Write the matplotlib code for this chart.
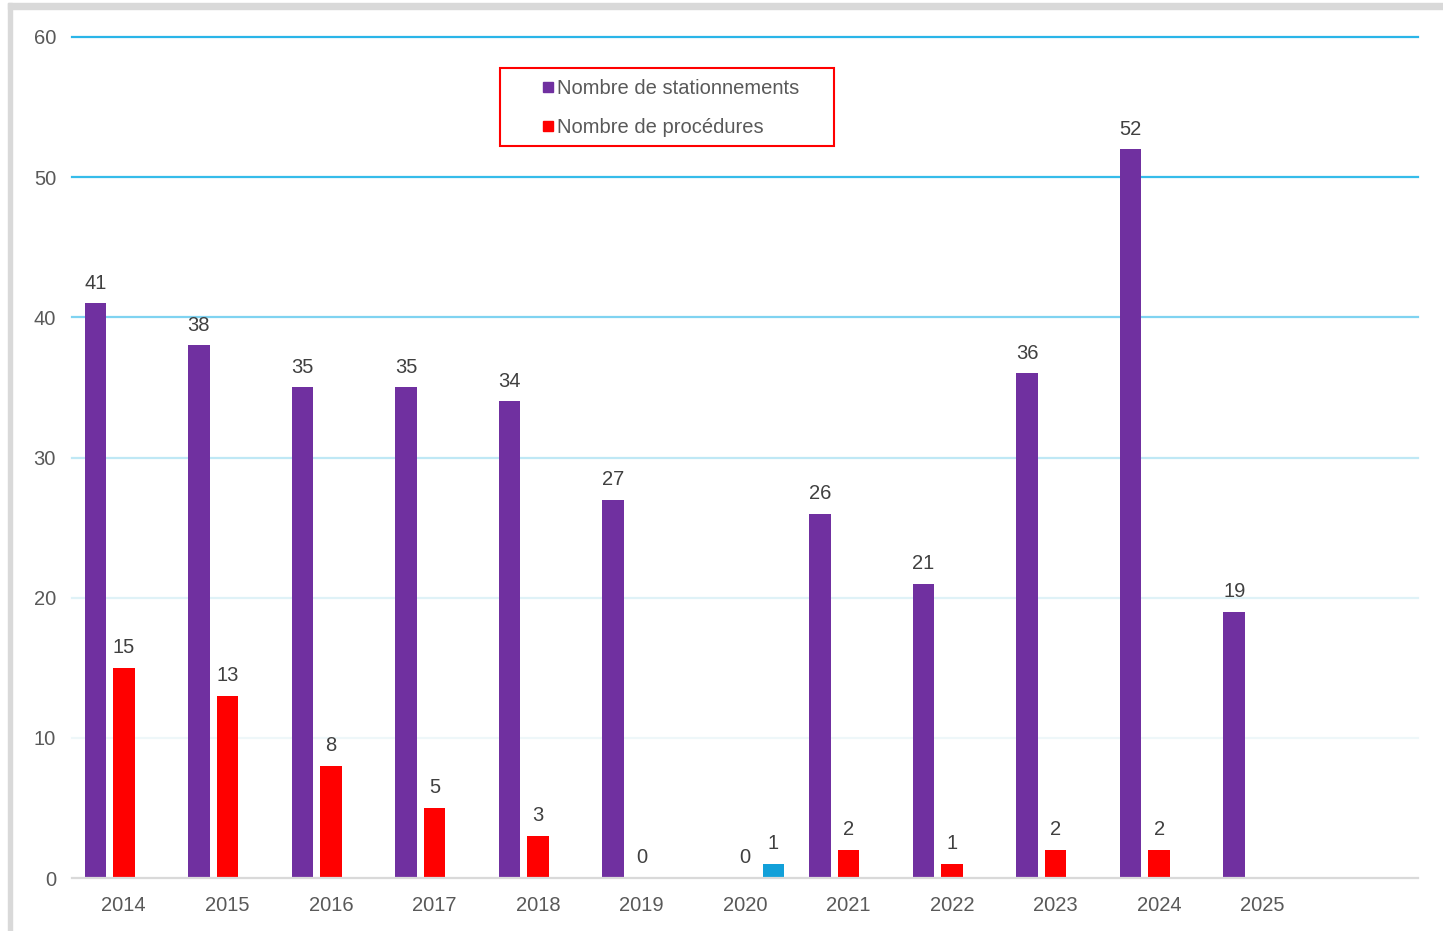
import numpy as np
import matplotlib

matplotlib.use("Agg")
import matplotlib.pyplot as plt
from matplotlib.lines import Line2D
from matplotlib.patches import Rectangle

plt.rcParams["font.family"] = ["Liberation Sans", "DejaVu Sans"]

years = ["2014", "2015", "2016", "2017", "2018", "2019", "2020",
         "2021", "2022", "2023", "2024", "2025", ""]
stationnements = [41, 38, 35, 35, 34, 27, None, 26, 21, 36, 52, 19, None]
procedures = [15, 13, 8, 5, 3, 0, 0, 2, 1, 2, 2, None, None]
autre = [None, None, None, None, None, None, 1, None, None, None, None, None, None]

series = [
    ("Nombre de stationnements", stationnements, "#7030A0", True),
    ("Nombre de procédures", procedures, "#FF0000", True),
    ("", autre, "#12A0D9", False),
]

W, H = 1443, 931
fs = 14.5
fig = plt.figure(figsize=(W / 100, H / 100), dpi=100)
ax = fig.add_axes([72 / W, (H - 878) / H, (1418 - 72) / W, (878 - 37) / H])

# grey frame of the original picture
fig.patches.append(Rectangle((8 / W, 0), 4 / W, (H - 3) / H, transform=fig.transFigure,
                             color="#d9d9d9", zorder=0))
fig.patches.append(Rectangle((8 / W, (H - 9) / H), (W - 8) / W, 6 / H, transform=fig.transFigure,
                             color="#d9d9d9", zorder=0))

x = np.arange(len(years))
width = 0.208
step = 0.275

grid_colors = {10: "#eef7f9", 20: "#dff2f7", 30: "#bfe8f5", 40: "#7fd3f1",
               50: "#36bcea", 60: "#2ab5e8"}
for level, col in grid_colors.items():
    ax.axhline(level, color=col, lw=1.6, zorder=1, clip_on=False)

for i, (name, vals, col, _) in enumerate(series):
    pos = x + (i - 1) * step
    for p, v in zip(pos, vals):
        if v is None:
            continue
        ax.bar(p, v, width=width, color=col, zorder=2)
        ax.annotate(str(v), (p, v), xytext=(0, 10.5), textcoords="offset points",
                    ha="center", va="baseline", fontsize=fs, color="#404040", zorder=3)

ax.set_xlim(-0.5, len(years) - 0.5)
ax.set_ylim(0, 60)
ax.set_xticks(x)
ax.set_xticklabels(years)
ax.set_yticks(np.arange(0, 61, 10))
ax.tick_params(axis="both", length=0, labelsize=fs, labelcolor="#595959")
ax.tick_params(axis="x", pad=13)
ax.tick_params(axis="y", pad=11.5)

for s in ["top", "right", "left"]:
    ax.spines[s].set_visible(False)
ax.spines["bottom"].set_color("#d9d9d9")
ax.spines["bottom"].set_linewidth(1.6)
ax.spines["bottom"].set_zorder(4)

# legend with a red frame
fig.patches.append(Rectangle((500 / W, (H - 146) / H), 334 / W, 78 / H,
                             transform=fig.transFigure, fill=False,
                             edgecolor="#FF0000", lw=1.5, zorder=5))
handles = [Line2D([], [], marker="s", ls="", color=col, markersize=7.5)
           for name, vals, col, show in series if show]
labels = [name for name, vals, col, show in series if show]
fig.legend(handles, labels, loc="upper left", bbox_to_anchor=(542 / W, (H - 79.5) / H),
           frameon=False, fontsize=fs, labelcolor="#595959", handlelength=0.6,
           handletextpad=0.15, labelspacing=0.95, borderpad=0, borderaxespad=0)

plt.savefig("out.png", dpi=100)
